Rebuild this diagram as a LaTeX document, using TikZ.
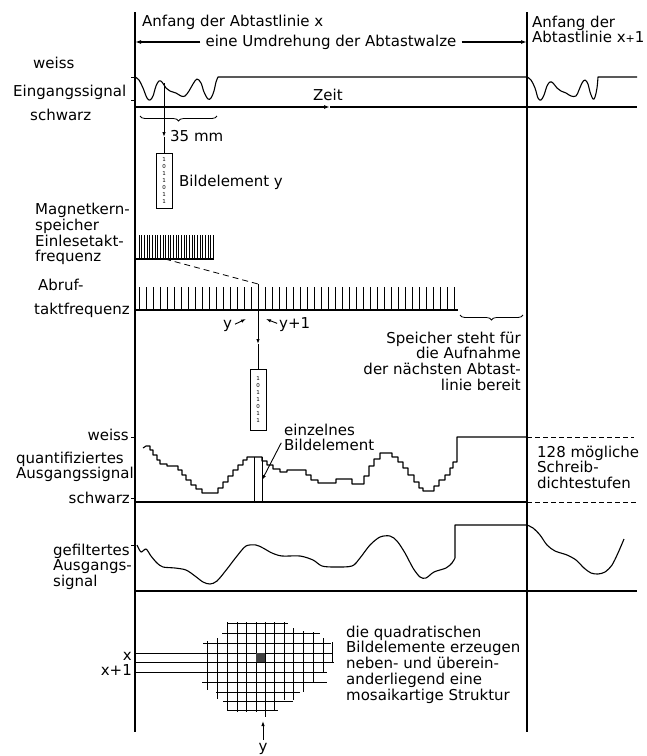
\documentclass[tikz,border=0pt]{standalone}
\usepackage{fontspec}
\setmainfont{DejaVu Sans}
\usepackage{tikz}
\usetikzlibrary{arrows.meta,positioning,decorations.pathreplacing}

\begin{document}
\begin{tikzpicture}[
    x=1pt, y=-1pt,
    every node/.style={font=\fontsize{15}{15.75}\selectfont, inner sep=0pt},
    lbl/.style={anchor=base west},
    lblr/.style={anchor=base east},
    blk/.style={anchor=north west, align=left},
    mainline/.style={line width=1.3pt},
    sig/.style={line width=1.1pt, line join=round},
    comb/.style={line width=0.7pt},
    mosaic/.style={line width=1pt},
    pointer/.style={line width=0.9pt, -{Latex[length=5pt,width=3.5pt]}},
    bitbox/.style={draw, line width=0.9pt, minimum width=16pt, align=center, font=\fontsize{5.5}{7}\selectfont},
    brc/.style={decorate, decoration={brace, amplitude=5pt}, line width=0.8pt}
]
    \useasboundingbox (0,0) rectangle (647,756);

    \coordinate (l0) at (135,12);
    \coordinate (r0) at (527,12);
    \draw[mainline] (l0) -- (135,732);
    \draw[mainline] (r0) -- (527,732);

    \node[lbl] (anfang) at (142,26) {Anfang der Abtastlinie x};
    \node[blk] (anfang2) at (532,15.5) {Anfang der\\Abtastlinie x{\fontsize{11}{12}\selectfont+}1};
    \node[inner xsep=5pt] (umdr) at (331,42) {eine Umdrehung der Abtastwalze};
    \draw[mainline, -{Latex[length=6pt,width=4pt]}] (umdr.west) -- (umdr.west -| l0);
    \draw[mainline, -{Latex[length=6pt,width=4pt]}] (umdr.east) -- (umdr.east -| r0);

    \node[lbl] (weiss1) at (33,68) {weiss};
    \node[lbl] (eing) at (13,96) {Eingangssignal};
    \node[lbl] (schwarz1) at (30,120) {schwarz};
    \node[lbl] (zeit) at (313,100) {Zeit};
    \foreach \y in {77,100,437,498,545}
        \draw[comb] (131,\y) -- (135,\y);

    \draw[sig] plot[smooth, tension=0.6] coordinates {(135,77) (139,80) (143,88) (147,98) (150,100) (153,96) (156,86) (159,81) (162,82) (166,88) (170,91) (176,93) (181,96) (185,96) (189,91) (193,84) (197,79) (201,83) (204,92) (208,99) (211,98) (214,91) (216,82) (218,77)} -- (527,77);
    \draw[sig] plot[smooth, tension=0.6] coordinates {(527,77) (531,80) (535,88) (538,98) (541,100) (544,95) (547,86) (550,82) (553,83) (557,88) (561,91) (566,93) (571,96) (576,96) (579,90) (582,83) (585,80) (588,84) (590,92) (593,99) (595,97) (597,88) (598,77)} -- (637,77);

    \coordinate (zl) at (135,107);
    \coordinate (zm) at (330,107);
    \coordinate (ze) at (637,107);
    \draw[mainline, -{Latex[length=6pt,width=4pt]}] (zl) -- (zm);
    \draw[mainline] (zm) -- (ze);

    \draw[brc] (217,116) -- (140,116);
    \coordinate (tap1) at (164,83);
    \coordinate (mid1) at (164,137);
    \node[bitbox, minimum height=55pt] (bild1) at (164,180.5) {1\\0\\1\\1\\0\\1\\1};
    \draw[pointer] (tap1) -- (mid1);
    \draw[line width=0.9pt] (mid1) -- (bild1.north);
    \node[lbl] (mm) at (170,141) {35 mm};
    \node[lbl] (bildtxt) at (179,186) {Bildelement y};

    \node[blk] (magnet) at (35,203) {Magnetkern-\\speicher\\Einlesetakt-\\frequenz};
    \foreach \i in {0,...,28}
        \draw[comb] ({139+2.65*\i},259) -- ({139+2.65*\i},235);
    \draw[mainline] (135,259) -- (214,259);

    \node[lbl] (abruf1) at (38,290) {Abruf-};
    \node[lblr] (abruf2) at (130,314) {taktfrequenz};
    \foreach \i in {0,...,45}
        \draw[comb] ({139+7*\i},310) -- ({139+7*\i},287);
    \draw[mainline] (135,310) -- (458,310);

    \coordinate (ein) at (165,259);
    \coordinate (abr) at (258,284);
    \draw[line width=0.8pt, dash pattern=on 6pt off 4pt] (ein) -- (abr);
    \coordinate (mid2) at (258,344);
    \node[bitbox, minimum height=61pt] (bild2) at (258,399.5) {1\\0\\1\\1\\0\\1\\1};
    \draw[pointer] (abr) -- (mid2);
    \draw[line width=0.9pt] (mid2) -- (bild2.north);

    \node[lbl] (ylab) at (223,328) {y};
    \node[lbl] (ylab1) at (279,328) {y+1};
    \coordinate (ya) at (246,319);
    \coordinate (yb) at (266,319);
    \draw[pointer, shorten <=3pt] (ylab.east) -- (ya);
    \draw[pointer, shorten <=2pt] (ylab1.west) -- (yb);

    \draw[brc] (523,315) -- (460,315);
    \node[anchor=north east, align=right] (speicher) at (521,331.6) {Speicher steht für\\die Aufnahme\\der nächsten Abtast-\\linie bereit};

    \node[lblr] (weiss2) at (129,440) {weiss};
    \node[blk] (quant) at (16,451.6) {quantifiziertes\\Ausgangssignal};
    \node[lblr] (schwarz2) at (130,503) {schwarz};

    \draw[sig] (143,448) -- (146,446) -- (150,446) -- (150,450) -- (153,450) -- (153,455) -- (157,455) -- (157,460) -- (160,460) -- (160,464) -- (167,464) -- (167,466) -- (178,466) -- (178,470) -- (182,470) -- (182,475) -- (186,475) -- (186,480) -- (191,480) -- (191,485) -- (196,485) -- (196,489) -- (202,489) -- (202,493) -- (218,493) -- (218,488) -- (223,488) -- (223,482) -- (228,482) -- (228,476) -- (233,476) -- (233,470) -- (238,470) -- (238,465) -- (243,465) -- (243,460) -- (247,460) -- (247,457) -- (262,457) -- (262,461) -- (267,461) -- (267,465) -- (273,465) -- (273,469) -- (280,469) -- (280,472) -- (287,472) -- (287,470) -- (306,470) -- (306,475) -- (311,475) -- (311,480) -- (318,480) -- (318,483) -- (336,483) -- (336,479) -- (352,479) -- (352,484) -- (364,484) -- (364,476) -- (369,476) -- (369,466) -- (374,466) -- (374,459) -- (380,459) -- (380,453) -- (392,453) -- (392,457) -- (398,457) -- (398,462) -- (403,462) -- (403,468) -- (408,468) -- (408,475) -- (414,475) -- (414,482) -- (419,482) -- (419,488) -- (423,488) -- (423,491) -- (434,491) -- (434,486) -- (439,486) -- (439,480) -- (445,480) -- (445,475) -- (450,475) -- (450,468) -- (453,468) -- (453,462) -- (457,462) -- (457,437) -- (527,437);
    \draw[line width=0.8pt, dash pattern=on 5pt off 3pt] (527,437) -- (634,437);
    \draw[mainline] (135,502) -- (527,502);
    \draw[line width=1pt, dash pattern=on 5pt off 3pt] (527,502) -- (636,502);

    \draw[line width=0.8pt] (254,457) -- (254,502);
    \draw[line width=0.8pt] (262,457) -- (262,502);
    \node[blk] (einz) at (284,423.6) {einzelnes\\Bildelement};
    \coordinate (elem) at (262,480);
    \draw[pointer, shorten <=6pt] (einz.west) -- (elem);

    \node[blk] (stufen) at (537,445.6) {128 mögliche\\Schreib-\\dichtestufen};

    \node[blk] (gefilt) at (53,543.6) {gefiltertes\\Ausgangs-\\signal};
    \draw[sig] plot[smooth, tension=0.5] coordinates {(137,545) (141,552) (146,549) (151,556) (157,563) (163,567) (175,568) (186,570) (195,576) (203,582) (210,584) (217,581) (227,569) (237,556) (246,546) (256,545) (263,548) (272,553) (282,556) (300,556) (313,560) (322,566) (335,567) (352,566) (360,558) (370,545) (380,537) (390,536) (397,541) (405,553) (413,568) (420,577) (426,578) (434,572) (446,568) (452,563) (455,558)} -- (455,525) -- (527,525);
    \draw[sig] plot[smooth, tension=0.5] coordinates {(527,525) (533,528) (540,535) (547,545) (555,551) (567,555) (576,560) (584,568) (591,573) (598,574) (605,572) (612,565) (618,553) (624,539)};
    \draw[mainline] (135,591) -- (637,591);

    \foreach \x/\ya/\yb in {207/641/690, 217/638/699, 227/622/711, 237/622/712, 246/622/712, 256/622/712, 265/622/717, 274/622/711, 284/622/700, 293/628/700, 303/631/692, 313/632/682, 323/638/673, 332/642/663}
        \draw[mosaic] (\x,\ya) -- (\x,\yb);
    \foreach \y/\xa/\xb in {623/227/288, 633/222/320, 643/203/331, 653/135/333, 662/135/334, 672/135/327, 682/202/327, 692/216/300, 701/223/293, 710/227/278}
        \draw[mosaic] (\xa,\y) -- (\xb,\y);
    \fill[black!75] (256,653) rectangle (265,662);
    \node[lblr] (xlab) at (132,660) {x};
    \node[lblr] (xlab1) at (132,675) {x+1};

    \node[blk] (mosaik) at (346,625.6) {die quadratischen\\Bildelemente erzeugen\\neben- und überein-\\anderliegend eine\\mosaikartige Struktur};

    \node[anchor=base] (ybot) at (263,751) {y};
    \coordinate (ytip) at (263,721);
    \draw[pointer, shorten <=3pt] (ybot.north) -- (ytip);
\end{tikzpicture}
\end{document}
